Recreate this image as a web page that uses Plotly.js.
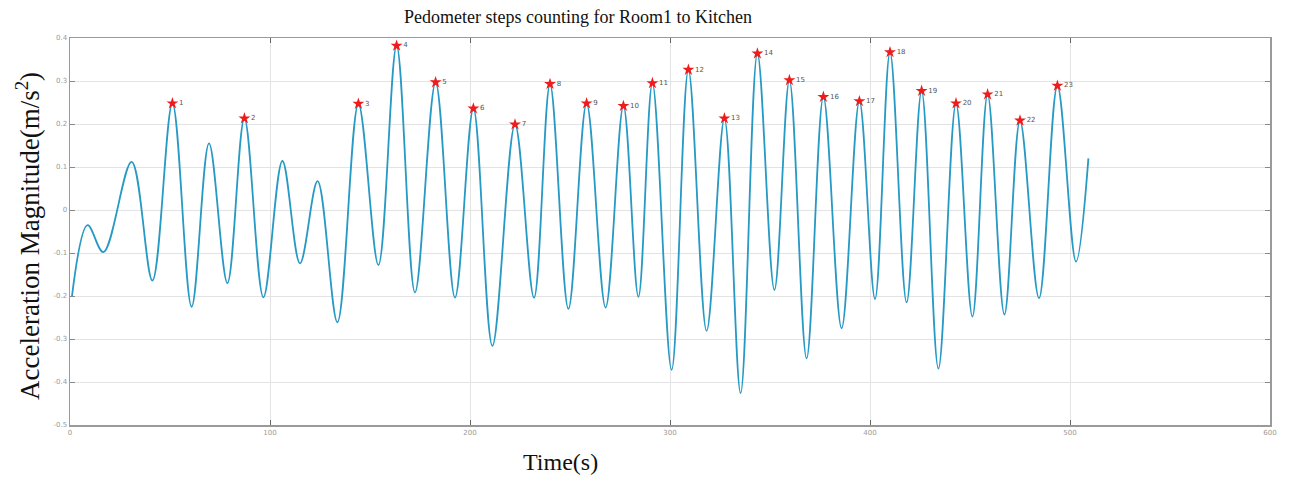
<!DOCTYPE html>
<html>
<head>
<meta charset="utf-8">
<script src="https://cdn.plot.ly/plotly-3.0.1.min.js"></script>
<style>
  html, body { margin: 0; padding: 0; background: #fff; }
  #chart { width: 1290px; height: 481px; }
</style>
</head>
<body>
<div id="chart"></div>
<script>
// Filtered acceleration magnitude: turning points of the walking signal
const signalTime = [1, 8.8, 16.7, 30.8, 41.2, 51.2, 60.8, 69.5, 78.7, 87.2, 96.7, 106.2, 115, 123.8,
  133.7, 144.2, 154.2, 163.3, 172.5, 182.8, 192.5, 201.7, 211.2, 222.5, 232, 240, 249.2, 258.3,
  267.8, 276.7, 284.2, 291.2, 300.8, 309.2, 318.3, 327.2, 335.3, 343.7, 352.2, 359.7, 368.3, 376.7,
  385.8, 394.7, 402.5, 410, 418.3, 425.8, 434.2, 443, 451.2, 458.8, 467.2, 475, 484.5, 493.7, 503, 509.2];
const signalValue = [-0.20, -0.035, -0.098, 0.112, -0.164, 0.248, -0.225, 0.155, -0.170, 0.213, -0.203,
  0.114, -0.124, 0.067, -0.261, 0.247, -0.128, 0.382, -0.192, 0.297, -0.204, 0.236, -0.316, 0.199,
  -0.204, 0.293, -0.230, 0.248, -0.227, 0.242, -0.202, 0.295, -0.372, 0.326, -0.281, 0.213, -0.426,
  0.364, -0.186, 0.302, -0.345, 0.263, -0.275, 0.253, -0.207, 0.367, -0.215, 0.277, -0.369, 0.248,
  -0.248, 0.269, -0.243, 0.208, -0.205, 0.289, -0.120, 0.120];

// Detected steps: position of each counted peak within the signal
const stepIndex = [5, 9, 15, 17, 19, 21, 23, 25, 27, 29, 31, 33, 35, 37, 39, 41, 43, 45, 47, 49, 51, 53, 55];
const stepLabels = stepIndex.map((_, i) => String(i + 1));

// Axis ticks
const xTicks = [0, 100, 200, 300, 400, 500, 600];
const yTicks = [0.4, 0.3, 0.2, 0.1, 0, -0.1, -0.2, -0.3, -0.4, -0.5];

const stepTime = stepIndex.map(i => signalTime[i]);
const stepValue = stepIndex.map(i => signalValue[i]);

const signalTrace = {
  x: signalTime, y: signalValue,
  type: 'scatter', mode: 'lines',
  line: { color: '#2699c4', width: 1.8, shape: 'spline', smoothing: 1 },
  hoverinfo: 'x+y', showlegend: false
};

const stepTrace = {
  x: stepTime, y: stepValue,
  type: 'scatter', mode: 'markers+text',
  marker: { symbol: 'star', size: 9, color: '#ee1c1c', line: { width: 0 } },
  text: stepLabels, textposition: 'middle right',
  textfont: { family: 'DejaVu Sans', size: 7, color: '#555' },
  cliponaxis: false, showlegend: false
};

const serif = 'Liberation Serif, Times New Roman, serif';

const layout = {
  width: 1290, height: 481,
  paper_bgcolor: '#fff', plot_bgcolor: '#fff',
  margin: { l: 70, r: 20, t: 38, b: 56 },
  showlegend: false,
  xaxis: {
    range: [0, 600], tickvals: xTicks, ticktext: xTicks.map(String),
    showgrid: true, gridcolor: '#e3e3e3', gridwidth: 1,
    zeroline: false, showline: true, linecolor: '#9a9a9a', linewidth: 1.5, mirror: 'ticks',
    ticks: 'inside', ticklen: 5, tickcolor: '#666',
    tickfont: { family: 'DejaVu Sans', size: 7, color: '#999' }
  },
  yaxis: {
    range: [-0.5, 0.4], tickvals: yTicks, ticktext: yTicks.map(v => v === 0 ? '0' : v.toFixed(1)),
    showgrid: true, gridcolor: '#e3e3e3', gridwidth: 1,
    zeroline: false, showline: true, linecolor: '#9a9a9a', linewidth: 1.5, mirror: 'ticks',
    ticks: 'inside', ticklen: 5, tickcolor: '#888',
    tickfont: { family: 'DejaVu Sans', size: 7, color: '#999' }
  },
  annotations: [
    { text: 'Pedometer steps counting for Room1 to Kitchen', xref: 'paper', yref: 'paper',
      x: (578 - 70) / 1200, y: 1, yshift: 21, xanchor: 'center', yanchor: 'middle', showarrow: false,
      font: { family: serif, size: 18, color: '#111' } },
    { text: 'Time(s)', xref: 'paper', yref: 'paper',
      x: (560 - 70) / 1200, y: 0, yshift: -37, xanchor: 'center', yanchor: 'middle', showarrow: false,
      font: { family: serif, size: 24, color: '#111' } },
    { text: 'Acceleration Magnitude(m/s<sup>2</sup>)', xref: 'paper', yref: 'paper',
      x: 0, xshift: -42, y: (425 - 236) / 387, xanchor: 'center', yanchor: 'middle', showarrow: false,
      textangle: -90, font: { family: serif, size: 27, color: '#111' } }
  ]
};

Plotly.newPlot('chart', [signalTrace, stepTrace], layout, { displayModeBar: false, staticPlot: true });
</script>
</body>
</html>
